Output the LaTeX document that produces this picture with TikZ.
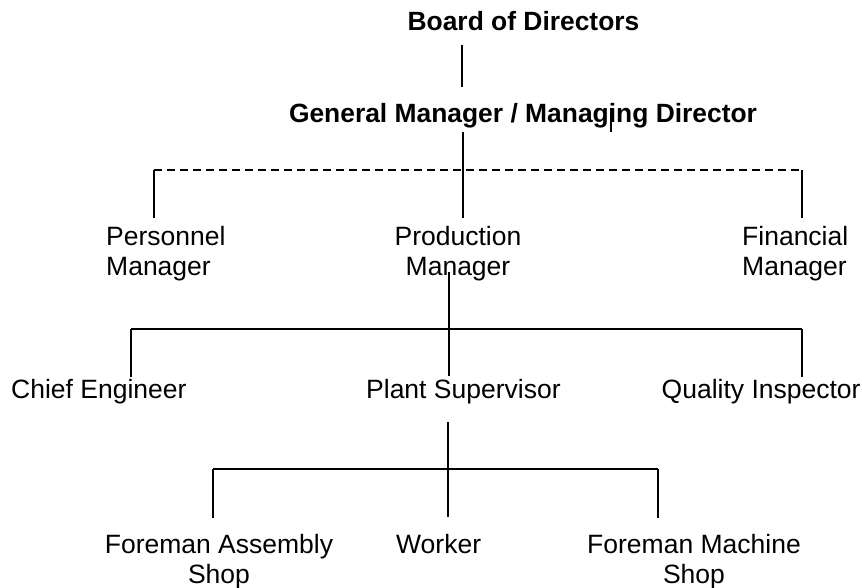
\documentclass[tikz,border=0pt]{standalone}
\usepackage{fontspec}
\setmainfont{Liberation Sans}
\begin{document}
\begin{tikzpicture}[x=1pt,y=-1pt,
  lbl/.style={inner sep=0pt, font=\fontsize{26.5}{30}\selectfont},
  ttl/.style={inner sep=0pt, font=\fontsize{26.4}{30}\selectfont\bfseries},
  link/.style={line width=1.2pt, line cap=butt},
  dlink/.style={link, dash pattern=on 8pt off 5pt}]
\useasboundingbox (0,0) rectangle (862,587);

% titles
\node[ttl, anchor=base] (board) at (523.5,30) {Board of Directors};
\node[ttl, anchor=base] (gm) at (523,122) {General Manager / Managing Director};

% level 2
\node[lbl, anchor=base west] (pers) at (106,245) {\begin{tabular}[t]{@{}l@{}}Personnel\\Manager\end{tabular}};
\node[lbl, anchor=base] (prod) at (458,245) {\begin{tabular}[t]{@{}c@{}}Production\\Manager\end{tabular}};
\node[lbl, anchor=base west] (fin) at (742,245) {\begin{tabular}[t]{@{}l@{}}Financial\\Manager\end{tabular}};

% level 3
\node[lbl, anchor=base west] (chief) at (11,398) {Chief Engineer};
\node[lbl, anchor=base west] (plant) at (366,398) {Plant Supervisor};
\node[lbl, anchor=base west] (qual) at (661.5,398) {Quality Inspector};

% level 4
\node[lbl, anchor=base] (fasm) at (219,553) {\begin{tabular}[t]{@{}c@{}}Foreman Assembly\\Shop\end{tabular}};
\node[lbl, anchor=base west] (work) at (396,553) {Worker};
\node[lbl, anchor=base] (fmac) at (694,553) {\begin{tabular}[t]{@{}c@{}}Foreman Machine\\Shop\end{tabular}};

% connector points
\coordinate (b1) at (462,45);  \coordinate (b2) at (462,87);
\coordinate (g1) at (463,132); \coordinate (g2) at (463,218);
\coordinate (st1) at (611,108); \coordinate (st2) at (611,132);
\coordinate (dl) at (154,170); \coordinate (dr) at (802,170);
\coordinate (pl) at (154,218); \coordinate (fl) at (802,218);
\coordinate (p1) at (449,272); \coordinate (p2) at (449,376);
\coordinate (hl) at (131,329); \coordinate (hr) at (802,329);
\coordinate (cl) at (131,377); \coordinate (ql) at (802,377);
\coordinate (s1) at (448,422); \coordinate (s2) at (448,517);
\coordinate (h2l) at (213,469); \coordinate (h2r) at (658,469);
\coordinate (al) at (213,518); \coordinate (ml) at (658,518);

% connectors
\draw[link] (b1) -- (b2);
\draw[link] (g1) -- (g2);
\draw[link] (st1) -- (st2);
\draw[dlink] (dl) -- (dr);
\draw[link] (dl) -- (pl);
\draw[link] (dr) -- (fl);
\draw[link] (p1) -- (p2);
\draw[link] (hl) -- (hr);
\draw[link] (hl) -- (cl);
\draw[link] (hr) -- (ql);
\draw[link] (s1) -- (s2);
\draw[link] (h2l) -- (h2r);
\draw[link] (h2l) -- (al);
\draw[link] (h2r) -- (ml);
\end{tikzpicture}
\end{document}
